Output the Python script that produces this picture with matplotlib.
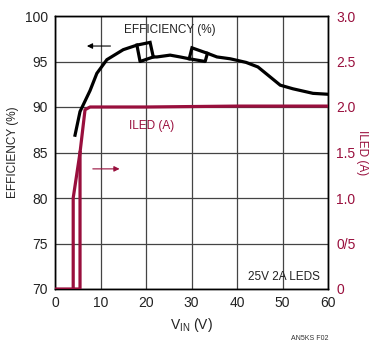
import matplotlib
matplotlib.use("Agg")
import matplotlib.pyplot as plt
import numpy as np

plt.rcParams['font.family'] = ['Liberation Sans Narrow', 'Liberation Sans', 'DejaVu Sans']

# efficiency (%), main sweep
eff_vin = [4.4, 5.5, 7.7, 9.2, 11.4, 15.0, 18.0, 20.9, 21.6, 22.4, 25.3, 27.5, 29.5,
           30.1, 33.5, 35.6, 38.5, 42.0, 44.6, 47.3, 49.5, 52.3, 56.7, 60.0]
eff_pct = [86.9, 89.5, 91.8, 93.7, 95.2, 96.3, 96.8, 97.1, 95.5, 95.5, 95.7, 95.5, 95.3,
           96.5, 95.9, 95.5, 95.3, 94.9, 94.4, 93.3, 92.4, 92.0, 91.5, 91.4]
# efficiency, return sweep (hysteresis loops)
eff_ret_vin = [18.0, 18.7, 21.6, np.nan, 29.5, 33.0, 33.5]
eff_ret_pct = [96.8, 95.0, 95.5, np.nan, 95.3, 95.0, 95.9]

# LED current (A)
iled_vin = [0.0, 5.5, 5.5, 6.6, 7.7, 20.0, 40.0, 60.0]
iled_amp = [0.0, 0.0, 1.5, 1.97, 2.0, 2.0, 2.01, 2.01]
iled_ret_vin = [5.5, 4.0, 4.0]
iled_ret_amp = [1.5, 1.0, 0.0]

x_ticks = [0, 10, 20, 30, 40, 50, 60]
eff_ticks = [70, 75, 80, 85, 90, 95, 100]
iled_ticks = [0, 0.5, 1.0, 1.5, 2.0, 2.5, 3.0]
iled_labels = ['0', '0/5', '1.0', '1.5', '2.0', '2.5', '3.0']

red = '#990f3d'
fs = 10

fig = plt.figure(figsize=(3.84, 3.41), dpi=100)
ax = fig.add_axes([55 / 384, 1 - 289 / 341, 273 / 384, 273 / 341])
ax2 = ax.twinx()

ax.plot(eff_vin, eff_pct, color='black', lw=2.3, solid_joinstyle='miter', zorder=4)
ax.plot(eff_ret_vin, eff_ret_pct, color='black', lw=2.3, zorder=4)
ax2.plot(iled_vin, iled_amp, color=red, lw=2.3, zorder=3)
ax2.plot(iled_ret_vin, iled_ret_amp, color=red, lw=2.3, zorder=3)

ax.set_xlim(0, 60)
ax.set_ylim(70, 100)
ax2.set_ylim(0, 3)
ax.set_xticks(x_ticks)
ax.set_yticks(eff_ticks)
ax2.set_yticks(iled_ticks)
ax2.set_yticklabels(iled_labels)
ax.grid(True, color='#444444', lw=0.9)
ax.tick_params(length=0, labelsize=fs, pad=5, colors='#222222')
ax2.tick_params(length=0, labelsize=fs, pad=6, colors=red)
for s in ax.spines.values():
    s.set_linewidth(1.0)
for s in ax2.spines.values():
    s.set_linewidth(1.0)

ax.set_ylabel('EFFICIENCY (%)', fontsize=8.5, color='#222222', labelpad=4)
ax2.set_ylabel('ILED (A)', fontsize=8.5, color=red, rotation=-90, labelpad=9)
ax.set_xlabel('V$_{\\mathregular{IN}}$ (V)', fontsize=fs, color='#222222', labelpad=4)

# annotations
ax.text(25.3, 98.5, 'EFFICIENCY (%)', fontsize=8.5, ha='center', va='center', color='#222222')
ax.annotate('', xy=(6.4, 96.7), xytext=(12.8, 96.7),
            arrowprops=dict(arrowstyle='-|>', color='black', lw=0.8, mutation_scale=8))
ax.text(21.3, 87.9, 'ILED (A)', fontsize=8.5, ha='center', va='center', color=red)
ax.annotate('', xy=(14.8, 83.2), xytext=(7.7, 83.2),
            arrowprops=dict(arrowstyle='-|>', color=red, lw=0.8, mutation_scale=8))
ax.text(58.3, 71.3, '25V 2A LEDS', fontsize=8.5, ha='right', va='center', color='#222222')
fig.text(310 / 384, 1 - 338 / 341, 'AN5KS F02', fontsize=5, ha='center', va='center', color='#333333')

fig.savefig('out.png', dpi=100)
